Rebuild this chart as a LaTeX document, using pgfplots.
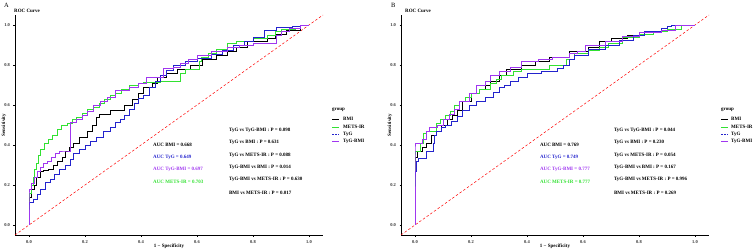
\documentclass[border=0pt]{standalone}
\usepackage{fontspec}
\setmainfont{Liberation Serif}
\usepackage{pgfplots}
\pgfplotsset{compat=1.18}
\definecolor{cBMI}{RGB}{0,0,0}
\definecolor{cMETS}{RGB}{50,225,50}
\definecolor{cTyG}{RGB}{35,35,205}
\definecolor{cTyGBMI}{RGB}{160,55,240}
\newcommand\fs[1]{\fontsize{#1bp}{#1bp}\selectfont}
\pgfplotsset{
  rocaxis/.style={scale only axis, width=308bp, height=220bp, anchor=south west,
    xmin=-0.05, xmax=1.05, ymin=-0.05, ymax=1.05,
    axis x line*=bottom, axis y line*=left,
    axis line style={black, line width=0.8bp, -},
    xtick={0,0.2,0.4,0.6,0.8,1}, ytick={0,0.2,0.4,0.6,0.8,1},
    tick align=outside, major tick length=1.5bp,
    tick style={black, line width=0.4bp},
    ticklabel style={font=\fs{4.5}\bfseries, text=black!80},
    /pgf/number format/fixed, /pgf/number format/fixed zerofill,
    /pgf/number format/precision=1, /pgf/number format/assume math mode=true,
    clip=false},
  rocline/.style={const plot mark right, line width=0.7bp, no markers},
  diag/.style={red, line width=0.5bp, dash pattern=on 2.5bp off 2bp, no markers}
}
\tikzset{ann/.style={anchor=west, font=\fs{5}\bfseries, inner sep=0pt}}
\begin{document}
\begin{tikzpicture}
\path[use as bounding box] (0,0) rectangle (753bp,250bp);
% ---------------- Panel A ----------------
\begin{axis}[rocaxis, at={(15bp,15bp)}]
\addplot[diag] coordinates {(-0.05,-0.05) (1.05,1.05)};
\addplot[rocline, cBMI] coordinates {(0,0) (0,0.105) (0.01,0.14) (0.02,0.18) (0.027,0.2) (0.04,0.24) (0.05,0.27) (0.07,0.275) (0.086,0.28) (0.1,0.3) (0.12,0.32) (0.13,0.34) (0.145,0.37) (0.16,0.39) (0.18,0.41) (0.21,0.44) (0.225,0.47) (0.24,0.5) (0.25,0.54) (0.29,0.555) (0.34,0.575) (0.37,0.6) (0.39,0.63) (0.41,0.66) (0.44,0.69) (0.46,0.71) (0.49,0.74) (0.53,0.76) (0.575,0.78) (0.62,0.8) (0.67,0.83) (0.71,0.85) (0.74,0.87) (0.78,0.89) (0.85,0.92) (0.88,0.935) (0.92,0.955) (0.97,0.975) (1,1)};
\addplot[rocline, cMETS] coordinates {(0,0) (0,0.12) (0.007,0.16) (0.014,0.2) (0.02,0.24) (0.027,0.28) (0.034,0.31) (0.041,0.35) (0.055,0.38) (0.068,0.41) (0.082,0.43) (0.1,0.45) (0.116,0.48) (0.136,0.5) (0.156,0.51) (0.17,0.53) (0.19,0.54) (0.21,0.56) (0.23,0.58) (0.25,0.59) (0.27,0.61) (0.29,0.63) (0.31,0.65) (0.33,0.66) (0.36,0.68) (0.39,0.7) (0.41,0.71) (0.47,0.715) (0.54,0.72) (0.56,0.76) (0.61,0.78) (0.615,0.82) (0.64,0.84) (0.67,0.86) (0.71,0.88) (0.74,0.91) (0.8,0.92) (0.85,0.935) (0.88,0.95) (0.9,0.97) (0.95,0.98) (0.97,0.985) (1,1)};
\addplot[rocline, cTyG] coordinates {(0,0) (0,0.09) (0.014,0.115) (0.03,0.13) (0.04,0.155) (0.06,0.18) (0.075,0.215) (0.09,0.23) (0.11,0.255) (0.13,0.28) (0.146,0.3) (0.16,0.33) (0.18,0.36) (0.2,0.38) (0.22,0.4) (0.24,0.42) (0.265,0.44) (0.29,0.47) (0.31,0.49) (0.325,0.515) (0.34,0.53) (0.36,0.55) (0.375,0.58) (0.39,0.61) (0.41,0.635) (0.43,0.65) (0.45,0.69) (0.47,0.72) (0.49,0.75) (0.515,0.775) (0.56,0.8) (0.6,0.82) (0.65,0.835) (0.69,0.855) (0.73,0.875) (0.77,0.9) (0.8,0.92) (0.84,0.94) (0.885,0.975) (0.94,0.99) (0.97,0.995) (1,1)};
\addplot[rocline, cTyGBMI] coordinates {(0,0) (0,0.15) (0.01,0.18) (0.02,0.21) (0.03,0.24) (0.04,0.27) (0.05,0.29) (0.065,0.31) (0.08,0.32) (0.095,0.34) (0.11,0.36) (0.13,0.37) (0.146,0.37) (0.146,0.49) (0.17,0.515) (0.19,0.53) (0.21,0.55) (0.23,0.57) (0.254,0.6) (0.28,0.62) (0.31,0.64) (0.36,0.675) (0.39,0.69) (0.42,0.71) (0.48,0.74) (0.515,0.785) (0.54,0.79) (0.57,0.81) (0.6,0.83) (0.65,0.85) (0.71,0.87) (0.75,0.89) (0.8,0.9) (0.885,0.91) (0.9,0.95) (0.93,0.97) (0.97,0.985) (1,1)};
\node[ann, text=cBMI] at (axis cs:0.443,0.40) {AUC BMI = 0.668};
\node[ann, text=cTyG] at (axis cs:0.443,0.338) {AUC TyG = 0.649};
\node[ann, text=cTyGBMI] at (axis cs:0.443,0.278) {AUC TyG-BMI = 0.697};
\node[ann, text=cMETS] at (axis cs:0.443,0.215) {AUC METS-IR = 0.703};
\node[ann] at (axis cs:0.714,0.474) {TyG vs TyG-BMI : P = 0.098};
\node[ann] at (axis cs:0.714,0.412) {TyG vs BMI : P = 0.631};
\node[ann] at (axis cs:0.714,0.35) {TyG vs METS-IR : P = 0.088};
\node[ann] at (axis cs:0.714,0.288) {TyG-BMI vs BMI : P = 0.014};
\node[ann] at (axis cs:0.714,0.226) {TyG-BMI vs METS-IR : P = 0.630};
\node[ann] at (axis cs:0.714,0.162) {BMI vs METS-IR : P = 0.017};
\end{axis}
% ---------------- Panel B ----------------
\begin{axis}[rocaxis, at={(401bp,15bp)}]
\addplot[diag] coordinates {(-0.05,-0.05) (1.05,1.05)};
\addplot[rocline, cBMI] coordinates {(0,0) (0,0.3) (0.01,0.34) (0.025,0.37) (0.04,0.39) (0.06,0.41) (0.077,0.45) (0.095,0.47) (0.115,0.5) (0.135,0.53) (0.15,0.55) (0.17,0.575) (0.2,0.62) (0.23,0.66) (0.25,0.68) (0.27,0.7) (0.3,0.72) (0.325,0.75) (0.38,0.78) (0.43,0.8) (0.48,0.82) (0.55,0.84) (0.62,0.87) (0.66,0.89) (0.7,0.92) (0.76,0.935) (0.82,0.95) (0.88,0.965) (0.93,0.975) (1,1)};
\addplot[rocline, cMETS] coordinates {(0,0) (0,0.34) (0.018,0.37) (0.03,0.41) (0.04,0.46) (0.077,0.47) (0.09,0.51) (0.11,0.53) (0.125,0.55) (0.14,0.57) (0.16,0.6) (0.18,0.62) (0.2,0.64) (0.23,0.66) (0.27,0.68) (0.29,0.71) (0.31,0.73) (0.35,0.75) (0.38,0.77) (0.48,0.78) (0.54,0.8) (0.57,0.83) (0.62,0.86) (0.66,0.875) (0.69,0.89) (0.74,0.91) (0.8,0.94) (0.85,0.955) (0.9,0.97) (0.95,0.98) (1,1)};
\addplot[rocline, cTyG] coordinates {(0,0) (0,0.22) (0.006,0.27) (0.012,0.32) (0.04,0.335) (0.064,0.37) (0.07,0.41) (0.077,0.45) (0.095,0.47) (0.11,0.49) (0.13,0.5) (0.15,0.52) (0.17,0.545) (0.195,0.575) (0.22,0.6) (0.25,0.62) (0.28,0.64) (0.3,0.665) (0.32,0.69) (0.34,0.7) (0.37,0.72) (0.4,0.74) (0.45,0.76) (0.51,0.77) (0.53,0.785) (0.55,0.8) (0.57,0.83) (0.62,0.85) (0.68,0.88) (0.73,0.9) (0.78,0.925) (0.82,0.95) (0.88,0.97) (0.9,0.985) (0.915,0.995) (1,1)};
\addplot[rocline, cTyGBMI] coordinates {(0,0) (0,0.38) (0.025,0.41) (0.04,0.43) (0.053,0.47) (0.08,0.49) (0.1,0.5) (0.124,0.53) (0.14,0.555) (0.16,0.58) (0.195,0.62) (0.22,0.66) (0.25,0.7) (0.27,0.72) (0.3,0.75) (0.34,0.77) (0.38,0.79) (0.44,0.82) (0.49,0.83) (0.55,0.84) (0.58,0.86) (0.61,0.87) (0.68,0.9) (0.74,0.92) (0.8,0.945) (0.88,0.965) (0.93,0.975) (1,1)};
\node[ann, text=cBMI] at (axis cs:0.446,0.40) {AUC BMI = 0.769};
\node[ann, text=cTyG] at (axis cs:0.446,0.338) {AUC TyG = 0.749};
\node[ann, text=cTyGBMI] at (axis cs:0.446,0.278) {AUC TyG-BMI = 0.777};
\node[ann, text=cMETS] at (axis cs:0.446,0.215) {AUC METS-IR = 0.777};
\node[ann] at (axis cs:0.71,0.474) {TyG vs TyG-BMI : P = 0.044};
\node[ann] at (axis cs:0.71,0.412) {TyG vs BMI : P = 0.230};
\node[ann] at (axis cs:0.71,0.35) {TyG vs METS-IR : P = 0.054};
\node[ann] at (axis cs:0.71,0.288) {TyG-BMI vs BMI : P = 0.167};
\node[ann] at (axis cs:0.71,0.226) {TyG-BMI vs METS-IR : P = 0.996};
\node[ann] at (axis cs:0.71,0.162) {BMI vs METS-IR : P = 0.269};
\end{axis}
% ---------------- labels ----------------
\node[anchor=west, font=\fs{6.5}, inner sep=0pt] at (4bp,245bp) {A};
\node[anchor=west, font=\fs{6.5}, inner sep=0pt] at (391bp,245bp) {B};
\node[anchor=west, font=\fs{5}\bfseries, inner sep=0pt] at (14bp,239bp) {ROC Curve};
\node[anchor=west, font=\fs{5}\bfseries, inner sep=0pt] at (405bp,239bp) {ROC Curve};
\node[font=\fs{5}\bfseries, inner sep=0pt, rotate=90] at (4bp,125bp) {Sensitivity};
\node[font=\fs{5}\bfseries, inner sep=0pt, rotate=90] at (390bp,125bp) {Sensitivity};
\node[font=\fs{5}\bfseries, inner sep=0pt] at (169bp,3.5bp) {1 − Specificity};
\node[font=\fs{5}\bfseries, inner sep=0pt] at (555bp,3.5bp) {1 − Specificity};
% legends
\foreach \lx/\tx in {332/343, 721/731} {
  \node[anchor=west, font=\fs{5}\bfseries, inner sep=0pt] at (\lx bp,140bp) {group};
  \draw[cBMI, line width=0.7bp] (\lx bp,131bp) -- ++(7bp,0);
  \draw[cMETS, line width=0.7bp] (\lx bp,123bp) -- ++(7bp,0);
  \draw[cTyG, line width=0.7bp, dash pattern=on 2bp off 1.2bp] (\lx bp,116bp) -- ++(7bp,0);
  \draw[cTyGBMI, line width=0.7bp] (\lx bp,109bp) -- ++(7bp,0);
  \node[anchor=west, font=\fs{5}\bfseries, inner sep=0pt] at (\tx bp,131bp) {BMI};
  \node[anchor=west, font=\fs{5}\bfseries, inner sep=0pt] at (\tx bp,123bp) {METS-IR};
  \node[anchor=west, font=\fs{5}\bfseries, inner sep=0pt] at (\tx bp,116bp) {TyG};
  \node[anchor=west, font=\fs{5}\bfseries, inner sep=0pt] at (\tx bp,109bp) {TyG-BMI};
}
\end{tikzpicture}
\end{document}
